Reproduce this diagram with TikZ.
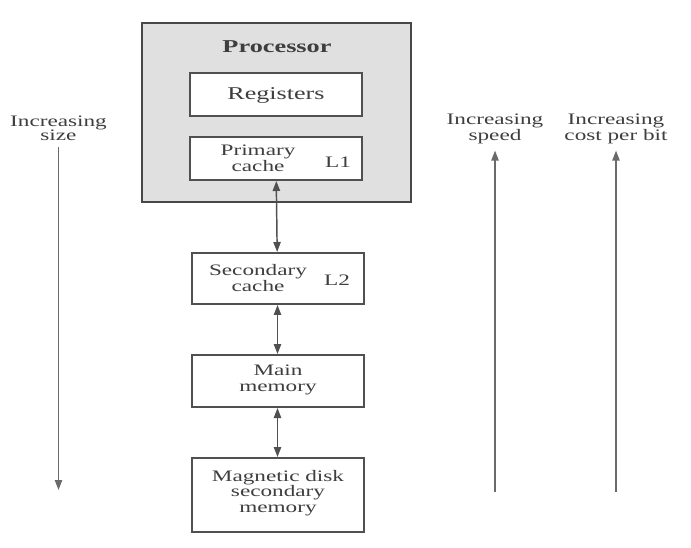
\documentclass[tikz,border=0pt]{standalone}
\usepackage{fontspec}
\setmainfont{Liberation Serif}[FakeStretch=1.45]
\usepackage{xcolor}
\usepackage{tikz}
\usetikzlibrary{arrows.meta}
\definecolor{inkgray}{RGB}{62,62,62}
\definecolor{linegray}{RGB}{80,80,80}
\definecolor{procgray}{RGB}{224,224,224}
\tikzset{
	memblock/.style={draw=linegray, line width=1.5pt, fill=white, minimum width=129pt, minimum height=#1, inner sep=0pt},
	procblock/.style={draw=linegray!90!black, line width=2.2pt, fill=procgray, minimum width=201.75pt, minimum height=134.25pt, inner sep=0pt},
	lbl/.style={text=inkgray, align=center, inner sep=0pt, font=\fontsize{12}{11.8}\selectfont},
	biglbl/.style={text=inkgray, align=center, inner sep=0pt, font=\fontsize{13.5}{13.5}\selectfont},
	sidelbl/.style={text=inkgray, align=center, inner sep=0pt, outer sep=5pt, font=\fontsize{12}{10.8}\selectfont},
	link/.style={draw=linegray, line width=1.1pt, {Triangle[length=7.5pt,width=5.5pt]}-{Triangle[length=7.5pt,width=5.5pt]}},
	growth/.style={draw=linegray!85, line width=1pt, -{Triangle[length=7.5pt,width=5.5pt]}}
}

\begin{document}
\begin{tikzpicture}[x=0.75pt,y=-0.75pt]
		\useasboundingbox (0,0) rectangle (691,548);

		%processor
		\node[procblock] (proc) at (276.5,112.5) {};
		\node[biglbl, font=\fontsize{13.6}{13.6}\selectfont\bfseries] (proctxt) at (277,47) {Processor};
		\node[memblock=32.25pt] (reg) at (276,94.5) {};
		\node[biglbl] (regtxt) at (276,95) {Registers};
		\node[memblock=32.25pt] (l1) at (276,158.5) {};
		\node[lbl] (l1txt) at (258,158) {Primary\\cache};
		\node[lbl] (l1name) at (338,162) {L1};

		%memories
		\node[memblock=38.25pt] (l2) at (277.5,278.5) {};
		\node[lbl] (l2txt) at (258,278) {Secondary\\cache};
		\node[lbl] (l2name) at (337,280) {L2};
		\node[memblock=39pt] (mm) at (277.5,381) {};
		\node[lbl] (mmtxt) at (278,380) {Main\\memory};
		\node[memblock=55.5pt] (disk) at (277.5,495) {};
		\node[lbl] (disktxt) at (278,493) {Magnetic disk\\secondary\\memory};

		\draw[link] (l1) -- (l2);
		\draw[link] (l2) -- (mm);
		\draw[link] (mm) -- (disk);

		% trends
		\node[sidelbl] (size) at (58.5,128) {Increasing\\size};
		\coordinate (sizeend) at (58.5,490);
		\node[sidelbl] (speed) at (495,129) {Increasing\\speed};
		\coordinate (speedend) at (495,492);
		\node[sidelbl] (cost) at (616,129) {Increasing\\cost per bit};
		\coordinate (costend) at (616,492);

		\draw[growth] (size) -- (sizeend);
		\draw[growth] (speedend) -- (speed);
		\draw[growth] (costend) -- (cost);

	\end{tikzpicture}
\end{document}
